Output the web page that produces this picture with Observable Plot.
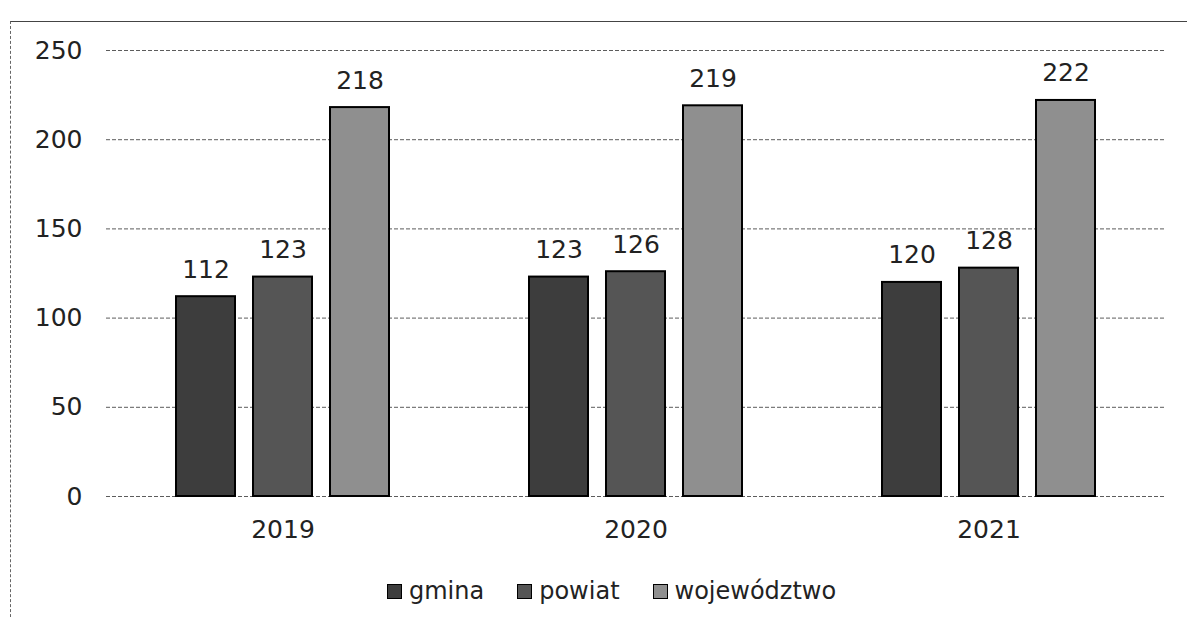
<!DOCTYPE html>
<html>
<head>
<meta charset="utf-8">
<script src="https://cdn.jsdelivr.net/npm/d3@7"></script>
<script src="https://cdn.jsdelivr.net/npm/@observablehq/plot@0.6"></script>
<style>
  body { margin: 0; background: #fff; font-family: "DejaVu Sans", sans-serif; }
  #wrap { position: relative; width: 1187px; height: 617px; overflow: hidden; }
  #frame { position: absolute; left: 10px; top: 21px; width: 1190px; height: 620px;
           border-top: 1px solid #444; border-left: 1px dashed #666; }
  #chart { position: absolute; left: 0; top: 0; }
  #legend { position: absolute; top: 577px; left: 387px; display: flex;
            font-size: 24px; color: #222; }
  #legend span.item { display: inline-flex; align-items: center; gap: 7px; margin-right: 33px; }
  #legend span.sw { display: inline-block; width: 15px; height: 15px; border: 1px solid #000; box-sizing: border-box; }
</style>
</head>
<body>
<div id="wrap">
  <div id="frame"></div>
  <div id="chart"></div>
  <div id="legend"></div>
</div>
<script>
const years = ["2019", "2020", "2021"];
const seriesNames = ["gmina", "powiat", "województwo"];
const gmina = [112, 123, 120];
const powiat = [123, 126, 128];
const wojewodztwo = [218, 219, 222];
const yTicks = [0, 50, 100, 150, 200, 250];
const colors = ["#3d3d3d", "#555555", "#8f8f8f"];

const seriesValues = [gmina, powiat, wojewodztwo];
const data = [];
years.forEach((y, i) => seriesNames.forEach((s, j) => data.push({year: y, series: s, value: seriesValues[j][i]})));

const chart = Plot.plot({
  width: 1187,
  height: 560,
  marginTop: 50,
  marginBottom: 64,
  marginLeft: 105,
  marginRight: 22,
  style: {fontFamily: "'DejaVu Sans', sans-serif", fontSize: "25px", color: "#222", background: "transparent"},
  fx: {domain: years, padding: 0, label: null},
  x: {domain: seriesNames, paddingInner: 0.23, paddingOuter: 0.88, axis: null},
  y: {domain: [0, 250], ticks: yTicks, label: null},
  color: {domain: seriesNames, range: colors},
  marks: [
    Plot.ruleY(yTicks, {stroke: "#333", strokeOpacity: 0.8, strokeWidth: 1, strokeDasharray: "4,2"}),
    Plot.axisY(yTicks, {tickSize: 0, tickPadding: 24, fontSize: 25, label: null}),
    Plot.axisFx({anchor: "bottom", tickSize: 0, tickPadding: 24, fontSize: 25, label: null}),
    Plot.barY(data, {fx: "year", x: "series", y: "value", fill: "series", stroke: "#000", strokeWidth: 2}),
    Plot.text(data, {fx: "year", x: "series", y: "value", text: d => String(d.value), dy: -27, fontSize: 25, fill: "#222"})
  ]
});
document.getElementById("chart").appendChild(chart);

const legend = document.getElementById("legend");
seriesNames.forEach((s, i) => {
  const item = document.createElement("span");
  item.className = "item";
  const sw = document.createElement("span");
  sw.className = "sw";
  sw.style.background = colors[i];
  item.appendChild(sw);
  item.appendChild(document.createTextNode(s));
  legend.appendChild(item);
});
</script>
</body>
</html>
